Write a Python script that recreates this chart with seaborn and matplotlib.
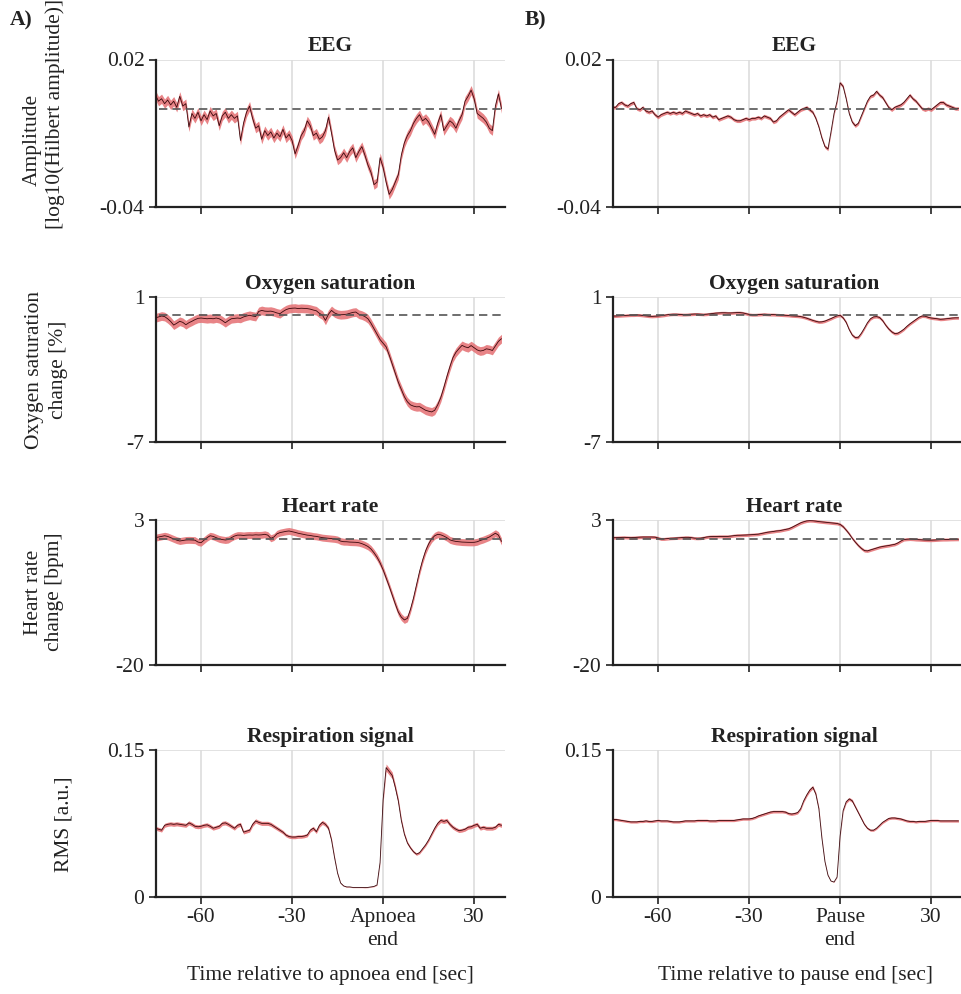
#Event-locked averages of EEG, SpO2, heart rate and respiration (apnoea vs pause)

import numpy as np
import pandas as pd
import matplotlib.pyplot as plt
import seaborn as sns

# time axis, seconds relative to apnoea / pause end
t = np.arange(-75, 40)

eeg_apnoea = [5.5, 3.0, 4.0, 2.0, 3.5, 1.5, 3.0, 0.5, 5.0, 1.0,
              2.0, -7.5, -2.0, -4.0, -1.5, -5.0, -2.5, -4.5, -1.0, -3.0,
              -2.0, -7.0, -3.0, -1.5, -4.0, -2.5, -4.0, -3.0, -13.0, -6.0,
              -1.5, 1.0, -4.0, -8.0, -7.0, -12.5, -9.0, -11.0, -9.5, -12.0,
              -10.0, -11.5, -8.5, -12.0, -10.5, -13.0, -18.5, -15.0, -11.0, -9.0,
              -5.0, -7.0, -11.0, -10.0, -12.5, -11.5, -9.0, -3.5, -10.0, -17.0,
              -21.0, -20.0, -18.0, -20.0, -17.5, -16.0, -20.0, -17.5, -15.5, -19.0,
              -23.0, -26.0, -31.0, -30.0, -20.0, -24.0, -30.0, -35.0, -33.0, -30.0,
              -27.0, -19.0, -14.0, -11.0, -9.0, -6.0, -4.0, -2.5, -5.0, -4.0,
              -5.5, -8.0, -10.5, -6.0, -2.5, -9.0, -7.0, -5.0, -6.0, -8.0,
              -5.0, -2.5, 3.0, 5.0, 7.5, 4.0, -2.0, -3.0, -4.0, -5.5,
              -8.0, -9.0, 1.0, 6.0, 0.0]
eeg_pause = [0.5, 0.5, 2.0, 2.5, 1.5, 1.0, 2.0, 2.5, 0.0, -0.5,
             0.5, -1.0, -1.5, -1.0, -2.5, -3.5, -2.5, -2.0, -1.5, -2.0,
             -1.5, -2.0, -1.5, -2.0, -1.0, -1.5, -2.0, -2.5, -2.0, -3.0,
             -2.5, -3.0, -2.5, -3.5, -3.0, -4.5, -4.0, -3.5, -3.0, -3.5,
             -4.5, -5.0, -5.0, -4.5, -4.0, -4.5, -4.0, -4.0, -3.5, -4.0,
             -3.0, -3.5, -4.0, -5.5, -5.0, -3.5, -2.5, -1.5, -0.5, -1.5,
             -2.5, -1.5, -0.5, 0.0, 0.5, -0.5, -1.5, -4.0, -7.5, -12.0,
             -15.5, -16.5, -9.5, -2.0, 3.0, 10.5, 9.0, 4.0, -2.0, -5.5,
             -7.0, -6.0, -3.0, 0.0, 3.0, 5.0, 5.5, 7.0, 5.5, 4.5,
             2.5, 0.5, -0.5, 0.5, 1.0, 1.5, 2.5, 4.0, 5.5, 4.0,
             3.0, 1.5, 0.0, -0.5, 0.0, -0.5, 0.5, 1.5, 2.5, 2.5,
             1.5, 1.0, 0.5, 0.0, 0.0]

# oxygen saturation change [%]
spo2_apnoea = [-0.15, -0.10, -0.05, -0.08, -0.20, -0.35, -0.55, -0.45, -0.34, -0.40,
               -0.53, -0.42, -0.34, -0.25, -0.18, -0.16, -0.18, -0.20, -0.18, -0.20,
               -0.16, -0.20, -0.30, -0.42, -0.30, -0.20, -0.18, -0.16, -0.18, -0.10,
               -0.05, -0.01, -0.05, -0.08, 0.20, 0.26, 0.22, 0.21, 0.22, 0.18,
               0.12, 0.08, 0.20, 0.30, 0.36, 0.38, 0.39, 0.36, 0.38, 0.37,
               0.36, 0.33, 0.28, 0.24, 0.10, 0.00, -0.29, 0.05, 0.26, 0.12,
               0.05, 0.02, 0.03, 0.05, 0.10, 0.15, 0.17, 0.05, 0.00, -0.08,
               -0.20, -0.45, -0.75, -1.05, -1.35, -1.55, -1.75, -2.20, -2.70, -3.20,
               -3.70, -4.10, -4.50, -4.78, -4.95, -5.02, -5.06, -5.05, -5.15, -5.25,
               -5.30, -5.34, -5.25, -4.95, -4.55, -4.00, -3.40, -2.85, -2.35, -2.05,
               -1.85, -1.67, -1.75, -1.80, -1.68, -1.80, -1.92, -1.98, -1.95, -1.86,
               -1.89, -1.95, -1.70, -1.45, -1.30]
spo2_pause = [-0.05, -0.05, -0.04, -0.03, -0.02, -0.01, 0.0, 0.0, 0.01, 0.0,
              -0.02, -0.04, -0.06, -0.07, -0.06, -0.05, -0.03, -0.01, 0.02, 0.04,
              0.05, 0.05, 0.04, 0.03, 0.03, 0.04, 0.05, 0.06, 0.06, 0.05,
              0.04, 0.05, 0.07, 0.09, 0.11, 0.12, 0.13, 0.13, 0.12, 0.12,
              0.13, 0.14, 0.14, 0.12, 0.08, 0.04, 0.02, 0.02, 0.03, 0.04,
              0.05, 0.04, 0.03, 0.03, 0.02, 0.01, 0.0, -0.01, -0.02, -0.04,
              -0.05, -0.06, -0.08, -0.12, -0.17, -0.23, -0.29, -0.34, -0.38, -0.37,
              -0.33, -0.26, -0.19, -0.11, -0.04, -0.01, -0.15, -0.40, -0.80, -1.10,
              -1.24, -1.22, -1.00, -0.72, -0.42, -0.20, -0.10, -0.08, -0.13, -0.30,
              -0.55, -0.76, -0.92, -1.02, -1.00, -0.90, -0.78, -0.62, -0.48, -0.36,
              -0.24, -0.12, -0.05, -0.06, -0.12, -0.16, -0.18, -0.20, -0.23, -0.22,
              -0.20, -0.18, -0.16, -0.15, -0.15]

# heart rate change [bpm]
hr_apnoea = [0.2, 0.3, 0.4, 0.5, 0.4, 0.2, 0.0, -0.2, -0.33, -0.25,
             -0.17, -0.15, -0.17, -0.2, -0.5, -0.6, -0.2, 0.2, 0.5, 0.4,
             0.2, 0.0, -0.1, -0.17, -0.1, 0.2, 0.45, 0.6, 0.6, 0.55,
             0.6, 0.62, 0.6, 0.65, 0.62, 0.65, 0.73, 0.6, 0.1, 0.3,
             0.8, 1.0, 1.1, 1.2, 1.26, 1.15, 1.04, 0.9, 0.8, 0.7,
             0.6, 0.55, 0.45, 0.4, 0.3, 0.2, 0.15, 0.1, 0.05, 0.0,
             -0.1, -0.35, -0.44, -0.45, -0.5, -0.52, -0.54, -0.6, -0.75, -0.95,
             -1.2, -1.6, -2.2, -2.9, -3.8, -4.9, -6.2, -7.5, -8.9, -10.3,
             -11.6, -12.4, -12.85, -12.6, -11.2, -9.4, -7.3, -5.2, -3.4, -1.9,
             -0.8, 0.0, 0.5, 0.73, 0.65, 0.45, 0.2, -0.15, -0.3, -0.4,
             -0.45, -0.5, -0.52, -0.54, -0.55, -0.54, -0.45, -0.25, -0.1, 0.1,
             0.3, 0.6, 0.9, 0.6, -0.4]
hr_pause = [0.2, 0.2, 0.22, 0.24, 0.25, 0.22, 0.2, 0.22, 0.25, 0.28,
            0.3, 0.3, 0.3, 0.3, 0.28, 0.15, 0.0, 0.0, 0.05, 0.1,
            0.12, 0.15, 0.18, 0.22, 0.25, 0.25, 0.2, 0.12, 0.1, 0.12,
            0.2, 0.3, 0.36, 0.38, 0.38, 0.4, 0.4, 0.4, 0.4, 0.45,
            0.52, 0.57, 0.58, 0.6, 0.62, 0.65, 0.68, 0.72, 0.75, 0.85,
            0.95, 1.05, 1.12, 1.18, 1.26, 1.3, 1.4, 1.5, 1.6, 1.8,
            2.05, 2.3, 2.55, 2.72, 2.85, 2.9, 2.88, 2.82, 2.75, 2.7,
            2.65, 2.6, 2.55, 2.5, 2.45, 2.3, 1.95, 1.4, 0.8, 0.1,
            -0.5, -1.05, -1.5, -1.85, -1.9, -1.75, -1.6, -1.45, -1.3, -1.2,
            -1.12, -1.05, -0.95, -0.86, -0.65, -0.35, -0.1, -0.05, -0.02, -0.05,
            -0.1, -0.12, -0.15, -0.18, -0.2, -0.2, -0.18, -0.15, -0.12, -0.1,
            -0.1, -0.08, -0.07, -0.06, -0.05]

# respiration RMS, in units of 1e-3
resp_apnoea = [70, 69, 68, 73, 74, 74.5, 74, 74.5, 74, 73.5,
               73, 75.5, 74, 72, 71.5, 72, 73, 73.5, 72, 70,
               71, 72, 75, 75.5, 74, 72, 70, 73, 74, 66,
               67, 68, 74, 77.5, 76, 75, 75, 75, 74, 72,
               70, 68, 66, 63, 61.5, 61, 61, 61.5, 61.5, 62,
               63, 68, 70, 66.5, 73, 76, 74, 70, 58, 40,
               24, 14, 11, 10, 10, 9.5, 9.5, 9.5, 9.5, 9.3,
               9.5, 10, 10.5, 12, 35, 99, 132, 128, 124, 112,
               98, 78, 64, 55, 50, 46, 43.5, 45, 49, 53,
               58, 64, 70, 75, 78, 77, 78, 74, 71, 69,
               67.5, 68, 69, 71, 71.5, 73, 74, 70, 71, 70,
               70, 70, 71, 74, 73]
resp_pause = [79, 79, 78.5, 78, 77.5, 77, 76.5, 76.5, 76.5, 77,
              77, 77.5, 77, 77, 77.5, 78, 77.5, 77.5, 77.5, 77,
              76.5, 76.5, 76.5, 77, 77.5, 77.5, 77.5, 77.5, 78, 78,
              78, 78, 77.5, 77.5, 77.5, 78, 78, 78, 78, 78,
              78, 78.5, 79, 79.5, 79.5, 79.5, 80, 81, 82.5, 83.5,
              84.5, 85.5, 86.5, 87, 87, 87, 87, 86.5, 85, 84.5,
              85, 86, 90, 98, 104, 109, 112, 105, 90, 60,
              36, 22, 16, 15, 20, 62, 88, 97, 100, 98,
              92, 86, 80, 74, 70, 68, 68, 70, 73, 76,
              78, 80, 80.5, 80.5, 80, 79.5, 78.5, 77.5, 77, 77,
              76.5, 77, 77, 77, 77.5, 78, 78, 78, 77.5, 77.5,
              77.5, 77.5, 77.5, 77.5, 77.5]

# half width of the shaded error band
eeg_sem = [1.9e-3, 0.7e-3]
spo2_sem = [0.24, 0.08]
hr_sem = [0.55, 0.24]
resp_sem_rel = [0.028, 0.016]   # relative to the mean

titles = ["EEG", "Oxygen saturation", "Heart rate", "Respiration signal"]
# y label lines: (text, x in px from figure left, y centre in px from top)
ylabel_lines = [[("Amplitude", 32, 140), ("[log10(Hilbert amplitude)]", 55, 114)],
                [("Oxygen saturation", 35, 370), ("change [%]", 58, 370)],
                [("Heart rate", 33, 592), ("change [bpm]", 55, 592)],
                [("RMS [a.u.]", 64, 824)]]
ylims = [(-0.04, 0.02), (-7, 1), (-20, 3), (0, 0.15)]
yticklabels = [["-0.04", "0.02"], ["-7", "1"], ["-20", "3"], ["0", "0.15"]]
xticks = [-60, -30, 0, 30]
xticklabels = [["-60", "-30", "Apnoea\nend", "30"], ["-60", "-30", "Pause\nend", "30"]]
xlabels = ["Time relative to apnoea end [sec]", "Time relative to pause end [sec]"]

for lst in [eeg_apnoea, eeg_pause, spo2_apnoea, spo2_pause, hr_apnoea, hr_pause, resp_apnoea, resp_pause]:
    assert len(lst) == len(t), len(lst)

data = {
    0: [np.array(eeg_apnoea) * 1e-3, np.array(eeg_pause) * 1e-3],
    1: [np.array(spo2_apnoea), np.array(spo2_pause)],
    2: [np.array(hr_apnoea), np.array(hr_pause)],
    3: [np.array(resp_apnoea) * 1e-3, np.array(resp_pause) * 1e-3],
}

sns.set_theme(style="white")
plt.rcParams['font.family'] = ['Liberation Serif', 'DejaVu Serif']
plt.rcParams['axes.unicode_minus'] = False
FS = 15.5
TXT = '#222222'
line_col = '#3a080c'
band_col = '#e46f72'

fig = plt.figure(figsize=(9.61, 9.94), dpi=100)
W, H = 961, 994
col_left = [155.5, 612.5]
col_width = 349
rows = [(59.5, 206.7), (297, 442), (520, 665), (750, 896.7)]

for r in range(4):
    for c in range(2):
        top, bot = rows[r]
        ax = fig.add_axes([col_left[c] / W, 1 - bot / H, col_width / W, (bot - top) / H])
        y = data[r][c]
        if r == 0:
            sem = eeg_sem[c]
        elif r == 1:
            sem = spo2_sem[c]
        elif r == 2:
            sem = hr_sem[c]
        else:
            sem = y * resp_sem_rel[c]
        ax.fill_between(t, y - sem, y + sem, color=band_col, alpha=0.85, lw=0, zorder=2)
        sns.lineplot(x=t, y=y, ax=ax, color=line_col, lw=0.6, zorder=3)
        if r < 3:
            ax.hlines(0, t[0] + 1, t[-1], colors='#555555', linestyles=(0, (5, 3)), lw=1.2, zorder=4)

        ax.set_xlim(-75, 40)
        ax.set_ylim(*ylims[r])
        ax.set_yticks(list(ylims[r]))
        ax.set_yticklabels(yticklabels[r])
        ax.set_xticks(xticks)
        if r == 3:
            ax.set_xticklabels(xticklabels[c])
            for lbl in ax.get_xticklabels():
                lbl.set_linespacing(1.3)
            ax.set_xlabel(xlabels[c], fontsize=FS, color=TXT)
            ax.xaxis.set_label_coords(0.5 if c == 0 else 0.523, -0.47)
        else:
            ax.set_xticklabels([])
        if c == 0:
            for txt, px, py in ylabel_lines[r]:
                fig.text(px / W, 1 - py / H, txt, rotation=90, ha='center', va='center',
                         fontsize=FS, color=TXT)

        ax.set_title(titles[r], fontsize=FS, fontweight='bold', color=TXT, pad=6,
                     x=0.5 if c == 0 else 0.52)
        ax.grid(True, color='#dddddd', lw=1.2)
        ax.set_axisbelow(True)
        sns.despine(ax=ax)
        for s in ['left', 'bottom']:
            ax.spines[s].set_color(TXT)
            ax.spines[s].set_linewidth(1.6)
        ax.tick_params(bottom=True, left=True, direction='out', length=5, width=1.2,
                       color=TXT, labelsize=FS, labelcolor=TXT, pad=3)

fig.text(10 / W, 1 - 20 / H, "A)", fontsize=FS, fontweight='bold', va='center', color=TXT)
fig.text(525 / W, 1 - 20 / H, "B)", fontsize=FS, fontweight='bold', va='center', color=TXT)

plt.savefig("out.png", dpi=100)
